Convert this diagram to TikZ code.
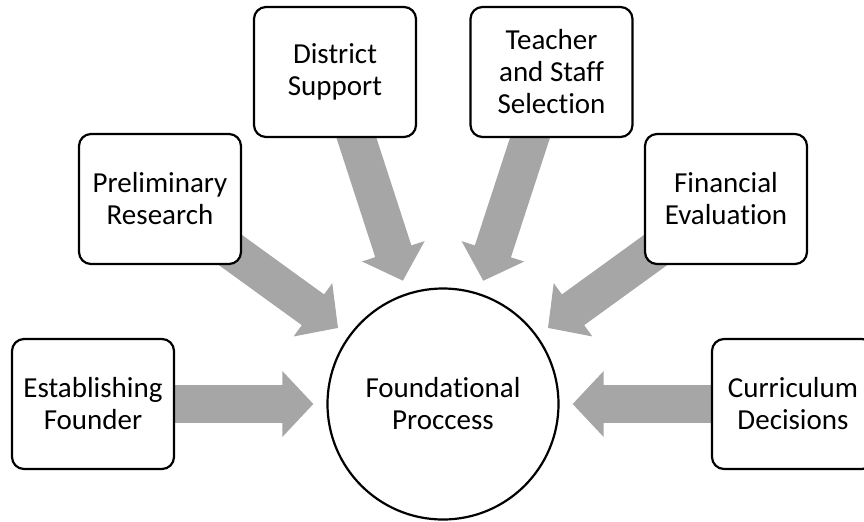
\documentclass[tikz,border=0pt]{standalone}
\usepackage{fontspec}
\setmainfont{Carlito}[Ligatures=NoCommon]
\usetikzlibrary{arrows.meta,backgrounds}
\definecolor{arrowgray}{RGB}{166,166,166}
\begin{document}
\begin{tikzpicture}[x=0.5pt, y=-0.5pt,
        box/.style={draw, fill=white, rounded corners=6pt, line width=1.1pt, minimum width=81pt, minimum height=65pt, align=center, font=\fontsize{14.5}{16}\selectfont},
        hub/.style={draw, fill=white, circle, line width=1.1pt, minimum size=115.5pt, inner sep=0pt, align=center, font=\fontsize{14.5}{16}\selectfont},
        bigarrow/.style={draw=arrowgray, line width=19pt, shorten >=6.5pt, -{Triangle[length=15.5pt, width=32pt]}}]
                \useasboundingbox (0,0) rectangle (864,521);

                \node[hub] (F) at (443,404) {Foundational\\Proccess};
                \node[box] (E) at (93,404) {Establishing\\Founder};
                \node[box] (P) at (160,199) {Preliminary\\Research};
                \node[box] (D) at (335,72) {District\\Support};
                \node[box] (T) at (551.5,72) {Teacher\\and Staff\\Selection};
                \node[box] (V) at (726,199) {Financial\\Evaluation};
                \node[box] (C) at (793,404) {Curriculum\\Decisions};

                \begin{scope}[on background layer]
                \draw[bigarrow] (E.center) -- (F);
                \draw[bigarrow] (P.center) -- (F);
                \draw[bigarrow] (D.center) -- (F);
                \draw[bigarrow] (T.center) -- (F);
                \draw[bigarrow] (V.center) -- (F);
                \draw[bigarrow] (C.center) -- (F);
                \end{scope}
            \end{tikzpicture}
\end{document}
